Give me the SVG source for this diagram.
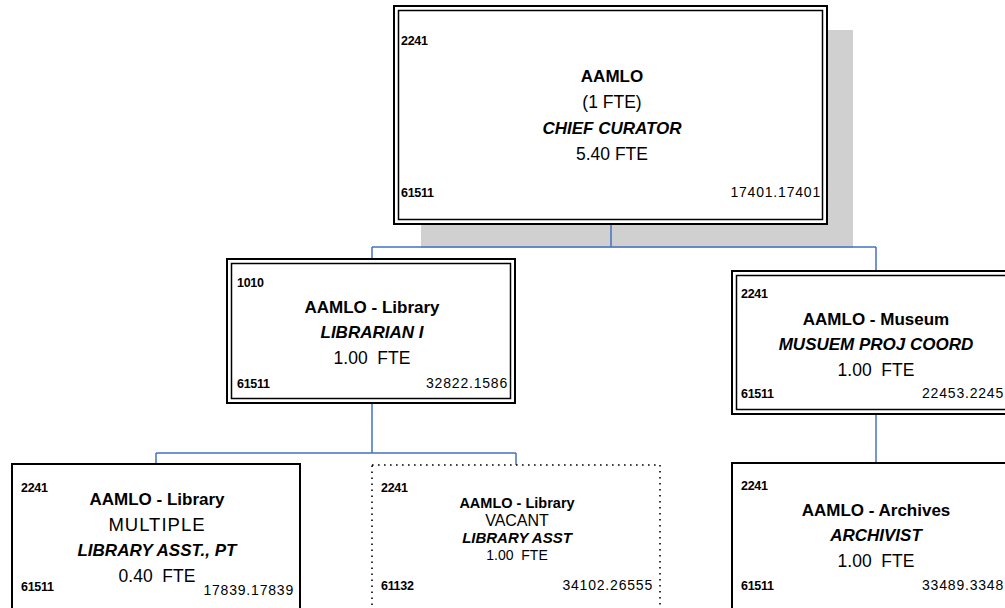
<svg xmlns="http://www.w3.org/2000/svg" width="1005" height="608" viewBox="0 0 1005 608">
<style>
text{font-family:"Liberation Sans",Arial,sans-serif;fill:#000}
.c{text-anchor:middle}
.r{text-anchor:end;font-size:14px;letter-spacing:0.8px}
.n{font-size:12.5px;font-weight:bold;letter-spacing:-0.3px}
.b{font-weight:bold;font-size:17px}
.bi{font-weight:bold;font-style:italic;font-size:17px}
.t{font-size:17.5px;white-space:pre}
.o{fill:#fff;stroke:#000;stroke-width:2}
.i{fill:none;stroke:#000;stroke-width:1.5}
.s{fill:#fff;stroke:#000;stroke-width:2}
.d{fill:#fff;stroke:#000;stroke-width:1.6;stroke-dasharray:1.6 4.4}
.vb{font-weight:bold;font-size:14.5px}
.vbi{font-weight:bold;font-style:italic;font-size:15px}
.vt{font-size:16px;white-space:pre}
.vf{font-size:14px;white-space:pre}
#connectors path{fill:none;stroke:#4472C4;stroke-width:1.5}
</style>
<rect x="421" y="30" width="432" height="218" fill="#d0d0d0"/>
<g id="connectors">
<path d="M611 224V247M372 247H876M372 247V259M876 247V271"/>
<path d="M372 403V453M156 453H516M156 453V464M516 453V465"/>
<path d="M876 414V463"/>
</g>
<g id="node-aamlo">
<rect class="o" x="394" y="6" width="433" height="218"/>
<rect class="i" x="398.5" y="10.5" width="424" height="209"/>
<text class="n" x="401" y="45">2241</text>
<text class="b c" x="612" y="82">AAMLO</text>
<text class="t c" x="612" y="108">(1 FTE)</text>
<text class="bi c" x="612" y="134">CHIEF CURATOR</text>
<text class="t c" x="612" y="160">5.40 FTE</text>
<text class="n" x="401" y="197">61511</text>
<text class="r" x="821" y="197">17401.17401</text>
</g>
<g id="node-library">
<rect class="o" x="227" y="259" width="288" height="144"/>
<rect class="i" x="231.5" y="263.5" width="279" height="135"/>
<text class="n" x="237" y="287">1010</text>
<text class="b c" x="372" y="313">AAMLO - Library</text>
<text class="bi c" x="372" y="338">LIBRARIAN I</text>
<text class="t c" x="372" y="364">1.00  FTE</text>
<text class="n" x="237" y="388">61511</text>
<text class="r" x="508" y="388">32822.1586</text>
</g>
<g id="node-museum">
<rect class="o" x="732" y="271" width="288" height="143"/>
<rect class="i" x="736.5" y="275.5" width="279" height="134"/>
<text class="n" x="741" y="298">2241</text>
<text class="b c" x="876" y="325">AAMLO - Museum</text>
<text class="bi c" x="876" y="350">MUSUEM PROJ COORD</text>
<text class="t c" x="876" y="376">1.00  FTE</text>
<text class="n" x="741" y="398">61511</text>
<text class="r" x="1004" y="398">22453.2245</text>
</g>
<g id="node-library-asst-pt">
<rect class="s" x="12" y="464" width="288" height="160"/>
<text class="n" x="21" y="492">2241</text>
<text class="b c" x="157" y="505">AAMLO - Library</text>
<text class="t c" x="157" y="531" style="font-size:18.5px;letter-spacing:1px">MULTIPLE</text>
<text class="bi c" x="157" y="556">LIBRARY ASST., PT</text>
<text class="t c" x="157" y="582">0.40  FTE</text>
<text class="n" x="21" y="591">61511</text>
<text class="r" x="294" y="595">17839.17839</text>
</g>
<g id="node-library-asst-vacant">
<rect class="d" x="372" y="465" width="288" height="160"/>
<text class="n" x="381" y="492">2241</text>
<text class="vb c" x="517" y="508">AAMLO - Library</text>
<text class="vt c" x="517" y="526">VACANT</text>
<text class="vbi c" x="517" y="543">LIBRARY ASST</text>
<text class="vf c" x="517" y="560">1.00  FTE</text>
<text class="n" x="381" y="590">61132</text>
<text class="r" x="653" y="590">34102.26555</text>
</g>
<g id="node-archives">
<rect class="s" x="732" y="463" width="288" height="160"/>
<text class="n" x="741" y="490">2241</text>
<text class="b c" x="876" y="516">AAMLO - Archives</text>
<text class="bi c" x="876" y="541">ARCHIVIST</text>
<text class="t c" x="876" y="567">1.00  FTE</text>
<text class="n" x="741" y="590">61511</text>
<text class="r" x="1004" y="590">33489.3348</text>
</g>
</svg>
